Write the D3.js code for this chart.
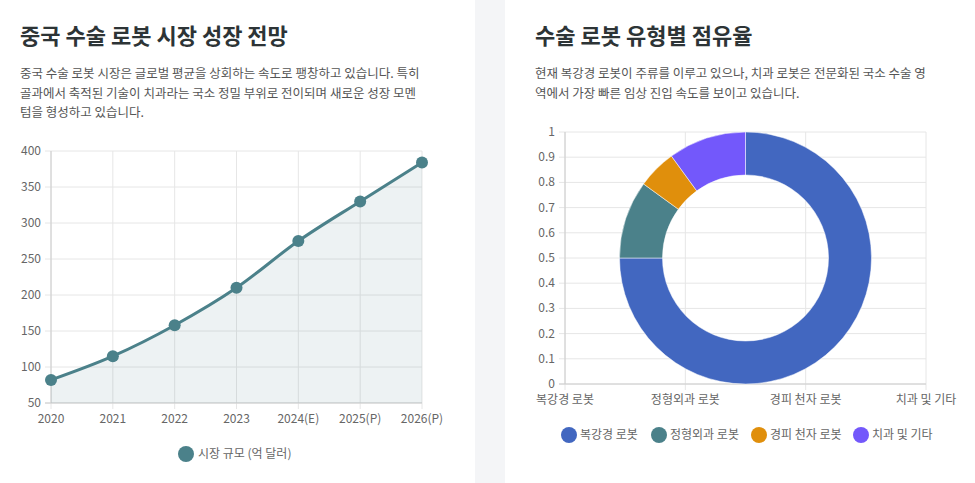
<!DOCTYPE html>
<html><head><meta charset="utf-8">
<script src="https://cdn.jsdelivr.net/npm/d3@7"></script>
<style>
body{margin:0;background:#f4f5f7;font-family:"Noto Sans CJK KR","Noto Sans",sans-serif;}
svg{display:block}
</style></head><body>
<svg id="c" width="975" height="483"></svg>
<script>
const years = ["2020","2021","2022","2023","2024(E)","2025(P)","2026(P)"];
const marketSize = [82,115,158,210,275,330,384];
const yTicksL = [50,100,150,200,250,300,350,400];
const types = ["복강경 로봇","정형외과 로봇","경피 천자 로봇","치과 및 기타"];
const shares = [0.75,0.10,0.05,0.10];
const typeColors = ["#4267c0","#4b818a","#e08f0c","#7358fb"];
const yTicksR = [0,0.1,0.2,0.3,0.4,0.5,0.6,0.7,0.8,0.9,1.0];

const svg = d3.select("#c");
svg.append("rect").attr("x",0).attr("y",0).attr("width",475).attr("height",483).attr("fill","#fff");
svg.append("rect").attr("x",505).attr("y",0).attr("width",470).attr("height",483).attr("fill","#fff");

function header(x, title, lines){
  svg.append("text").attr("x",x).attr("y",44).text(title)
    .attr("font-size",22).attr("font-weight",700).attr("fill","#2d3436");
  lines.forEach((l,i)=>svg.append("text").attr("x",x).attr("y",78+i*19.5).text(l)
    .attr("font-size",12.5).attr("fill","#555"));
}
header(20,"중국 수술 로봇 시장 성장 전망",["중국 수술 로봇 시장은 글로벌 평균을 상회하는 속도로 팽창하고 있습니다. 특히","골과에서 축적된 기술이 치과라는 국소 정밀 부위로 전이되며 새로운 성장 모멘","텀을 형성하고 있습니다."]);
header(535,"수술 로봇 유형별 점유율",["현재 복강경 로봇이 주류를 이루고 있으나, 치과 로봇은 전문화된 국소 수술 영","역에서 가장 빠른 임상 진입 속도를 보이고 있습니다."]);

const grid="#e6e6e6", tickC="#666";
// Left chart
const x = d3.scalePoint().domain(years).range([51,422]);
const y = d3.scaleLinear().domain([50,400]).range([403,151]);
const gL = svg.append("g");
gL.selectAll(".hg").data(yTicksL).join("line").attr("x1",45).attr("x2",422)
  .attr("y1",d=>y(d)).attr("y2",d=>y(d)).attr("stroke",grid);
gL.selectAll(".vg").data(years).join("line").attr("x1",d=>x(d)).attr("x2",d=>x(d))
  .attr("y1",151).attr("y2",409).attr("stroke",grid);
gL.append("line").attr("x1",51).attr("x2",51).attr("y1",151).attr("y2",403).attr("stroke","#ccc");
gL.append("line").attr("x1",45).attr("x2",422).attr("y1",403).attr("y2",403).attr("stroke","#ccc");
gL.selectAll(".yt").data(yTicksL).join("text").attr("x",41).attr("y",d=>y(d)+4)
  .attr("text-anchor","end").attr("font-size",12).attr("fill",tickC).text(d=>d);
gL.selectAll(".xt").data(years).join("text").attr("x",d=>x(d)).attr("y",423)
  .attr("text-anchor","middle").attr("font-size",12).attr("fill",tickC).text(d=>d);
const pts = years.map((d,i)=>[x(d),y(marketSize[i])]);
gL.append("path").attr("d",d3.area().x(d=>d[0]).y0(403).y1(d=>d[1]).curve(d3.curveMonotoneX)(pts))
  .attr("fill","rgba(75,129,138,0.1)");
gL.append("path").attr("d",d3.line().curve(d3.curveMonotoneX)(pts))
  .attr("fill","none").attr("stroke","#4b818a").attr("stroke-width",3);
gL.selectAll(".pt").data(pts).join("circle").attr("cx",d=>d[0]).attr("cy",d=>d[1]).attr("r",6).attr("fill","#4b818a");
gL.append("circle").attr("cx",186).attr("cy",454).attr("r",8).attr("fill","#4b818a");
gL.append("text").attr("x",198).attr("y",458).attr("font-size",12).attr("fill",tickC).text("시장 규모 (억 달러)");

// Right chart
const xr = d3.scalePoint().domain(types).range([565,926]);
const yr = d3.scaleLinear().domain([0,1]).range([384,132]);
const gR = svg.append("g");
gR.selectAll(".hg").data(yTicksR).join("line").attr("x1",559).attr("x2",926)
  .attr("y1",d=>yr(d)).attr("y2",d=>yr(d)).attr("stroke",grid);
gR.selectAll(".vg").data(types).join("line").attr("x1",d=>xr(d)).attr("x2",d=>xr(d))
  .attr("y1",132).attr("y2",390).attr("stroke",grid);
gR.append("line").attr("x1",565).attr("x2",565).attr("y1",132).attr("y2",384).attr("stroke","#ccc");
gR.append("line").attr("x1",559).attr("x2",926).attr("y1",384).attr("y2",384).attr("stroke","#ccc");
gR.selectAll(".yt").data(yTicksR).join("text").attr("x",555).attr("y",d=>yr(d)+4)
  .attr("text-anchor","end").attr("font-size",12).attr("fill",tickC).text(d=>d3.format(".1~f")(d));
gR.selectAll(".xt").data(types).join("text").attr("x",d=>xr(d)).attr("y",404)
  .attr("text-anchor","middle").attr("font-size",12).attr("fill",tickC).text(d=>d);
const pie = d3.pie().sort(null).value(d=>d)(shares);
const arc = d3.arc().innerRadius(83).outerRadius(126);
gR.append("g").attr("transform","translate(745.5,258)").selectAll("path").data(pie).join("path")
  .attr("d",arc).attr("fill",(d,i)=>typeColors[i]).attr("stroke","#fff").attr("stroke-width",0.5);
const legX=[569,659,759,861];
types.forEach((t,i)=>{
  gR.append("circle").attr("cx",legX[i]).attr("cy",435).attr("r",8).attr("fill",typeColors[i]);
  gR.append("text").attr("x",legX[i]+11).attr("y",439).attr("font-size",12).attr("fill",tickC).text(t);
});
</script></body></html>
